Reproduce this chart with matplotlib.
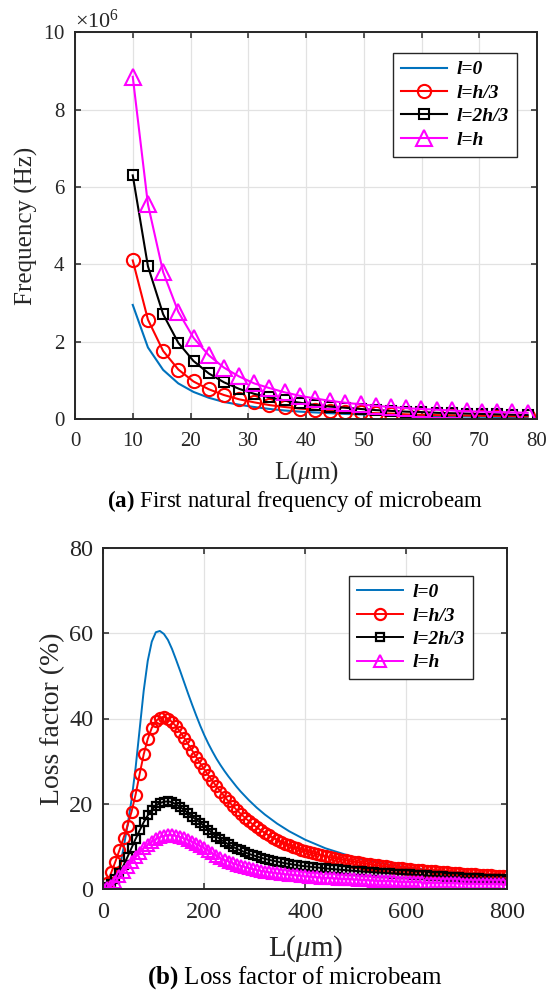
import numpy as np
import matplotlib
matplotlib.use("Agg")
import matplotlib.pyplot as plt
from matplotlib.ticker import ScalarFormatter

plt.rcParams['font.family'] = 'Liberation Serif'
plt.rcParams['mathtext.fontset'] = 'custom'
plt.rcParams['mathtext.rm'] = 'Liberation Serif'
plt.rcParams['mathtext.it'] = 'Liberation Serif:italic'
plt.rcParams['mathtext.bf'] = 'Liberation Serif:bold'

# ---- (a) first natural frequency, values in units of 1e6 Hz ----
L_freq = [10.0, 12.63, 15.26, 17.89, 20.52, 23.15, 25.78, 28.41, 31.04, 33.67,
          36.3, 38.93, 41.56, 44.19, 46.82, 49.45, 52.08, 54.71, 57.34, 59.97,
          62.6, 65.23, 67.86, 70.49, 73.12, 75.75, 78.38]
freq_l0 = [2.95, 1.85, 1.27, 0.92, 0.70, 0.55, 0.44, 0.37, 0.31, 0.26,
           0.22, 0.19, 0.17, 0.15, 0.13, 0.12, 0.11, 0.10, 0.09, 0.08,
           0.075, 0.069, 0.064, 0.059, 0.055, 0.051, 0.048]
freq_h3 = [4.10, 2.57, 1.76, 1.28, 0.97, 0.77, 0.62, 0.51, 0.43, 0.36,
           0.31, 0.27, 0.24, 0.21, 0.19, 0.17, 0.15, 0.14, 0.12, 0.11,
           0.10, 0.096, 0.089, 0.083, 0.077, 0.071, 0.067]
freq_2h3 = [6.30, 3.95, 2.71, 1.97, 1.50, 1.18, 0.95, 0.78, 0.65, 0.56,
            0.48, 0.42, 0.36, 0.32, 0.29, 0.26, 0.23, 0.21, 0.19, 0.18,
            0.16, 0.15, 0.14, 0.13, 0.12, 0.11, 0.10]
freq_h = [8.85, 5.55, 3.80, 2.77, 2.10, 1.65, 1.33, 1.10, 0.92, 0.80,
          0.69, 0.60, 0.53, 0.47, 0.42, 0.38, 0.34, 0.31, 0.28, 0.26,
          0.24, 0.22, 0.20, 0.19, 0.18, 0.17, 0.16]

# ---- (b) loss factor (%) ----
L_loss = [0, 8, 16, 24, 32, 40, 48, 56, 64, 72, 80, 88, 96, 104, 112, 120,
          128, 136, 144, 152, 160, 168, 176, 184, 192, 200, 208, 216, 224,
          232, 240, 248, 256, 264, 272, 280, 288, 296, 304, 312, 320, 328,
          336, 344, 352, 360, 368, 376, 384, 392, 400, 408, 416, 424, 432,
          440, 448, 456, 464, 472, 480, 488, 496, 504, 512, 520, 528, 536,
          544, 552, 560, 568, 576, 584, 592, 600, 608, 616, 624, 632, 640,
          648, 656, 664, 672, 680, 688, 696, 704, 712, 720, 728, 736, 744,
          752, 760, 768, 776, 784, 792, 800]
loss_l0 = [0.0, 0.1, 0.6, 1.9, 5.0, 9.6, 15.0, 21.0, 28.5, 37.5, 46.5, 53.5,
           58.0, 60.2, 60.5, 59.8, 58.4, 56.3, 53.8, 51.2, 48.5, 45.8, 43.2,
           40.7, 38.3, 36.1, 34.1, 32.3, 30.6, 29.1, 27.7, 26.4, 25.2, 24.0,
           22.9, 21.9, 20.9, 20.0, 19.1, 18.3, 17.5, 16.8, 16.1, 15.4, 14.8,
           14.2, 13.6, 13.1, 12.6, 12.1, 11.6, 11.2, 10.8, 10.4, 10.0, 9.6,
           9.3, 9.0, 8.7, 8.4, 8.1, 7.8, 7.55, 7.3, 7.05, 6.85, 6.65, 6.45,
           6.25, 6.05, 5.9, 5.75, 5.6, 5.45, 5.3, 5.15, 5.0, 4.9, 4.8, 4.7,
           4.6, 4.5, 4.4, 4.3, 4.2, 4.1, 4.0, 3.95, 3.85, 3.8, 3.7, 3.65,
           3.55, 3.5, 3.45, 3.4, 3.3, 3.25, 3.2, 3.15, 3.1]
loss_h3 = [0.0, 1.5, 4.0, 6.5, 9.2, 12.0, 14.9, 18.2, 22.2, 27.0, 31.6, 35.2,
           37.8, 39.4, 40.2, 40.4, 40.0, 39.2, 38.2, 36.9, 35.5, 34.0, 32.5,
           31.0, 29.5, 28.1, 26.7, 25.4, 24.1, 22.9, 21.7, 20.6, 19.6, 18.6,
           17.7, 16.8, 16.0, 15.2, 14.5, 13.8, 13.2, 12.6, 12.1, 11.6, 11.1,
           10.7, 10.3, 9.9, 9.6, 9.3, 9.0, 8.7, 8.45, 8.2, 7.95, 7.75, 7.55,
           7.35, 7.15, 6.95, 6.8, 6.6, 6.45, 6.3, 6.15, 6.0, 5.85, 5.7, 5.6,
           5.45, 5.35, 5.2, 5.1, 5.0, 4.9, 4.8, 4.7, 4.6, 4.5, 4.42, 4.34,
           4.26, 4.18, 4.1, 4.02, 3.95, 3.88, 3.81, 3.74, 3.67, 3.6, 3.54,
           3.48, 3.42, 3.36, 3.3, 3.24, 3.18, 3.12, 3.06, 3.0]
loss_2h3 = [0.0, 0.5, 1.3, 2.4, 3.9, 5.6, 7.6, 9.7, 11.8, 13.8, 15.7, 17.3,
            18.6, 19.6, 20.2, 20.5, 20.6, 20.4, 19.9, 19.3, 18.6, 17.8, 17.0,
            16.3, 15.6, 14.8, 14.0, 13.1, 12.3, 11.7, 11.1, 10.5, 10.0, 9.5,
            9.1, 8.7, 8.3, 8.0, 7.7, 7.4, 7.15, 6.9, 6.7, 6.5, 6.3, 6.1, 5.95,
            5.8, 5.65, 5.5, 5.4, 5.3, 5.2, 5.1, 5.0, 4.9, 4.8, 4.72, 4.64,
            4.56, 4.48, 4.4, 4.33, 4.26, 4.19, 4.12, 4.05, 3.99, 3.93, 3.87,
            3.81, 3.75, 3.7, 3.64, 3.59, 3.54, 3.48, 3.42, 3.36, 3.3, 3.24,
            3.18, 3.12, 3.06, 3.0, 2.95, 2.9, 2.85, 2.8, 2.75, 2.7, 2.65, 2.6,
            2.55, 2.5, 2.46, 2.42, 2.38, 2.34, 2.3, 2.26]
loss_h = [0.0, 0.2, 0.8, 1.8, 3.0, 4.1, 5.2, 6.3, 7.5, 8.6, 9.6, 10.4, 11.1,
          11.7, 12.2, 12.5, 12.7, 12.7, 12.5, 12.25, 11.9, 11.5, 11.1, 10.6,
          10.1, 9.6, 9.0, 8.4, 7.8, 7.3, 6.9, 6.5, 6.15, 5.8, 5.5, 5.2, 4.95,
          4.7, 4.5, 4.3, 4.15, 4.0, 3.85, 3.75, 3.65, 3.55, 3.45, 3.35, 3.25,
          3.15, 3.05, 2.98, 2.9, 2.83, 2.76, 2.7, 2.64, 2.58, 2.52, 2.46, 2.4,
          2.35, 2.3, 2.25, 2.2, 2.15, 2.1, 2.06, 2.02, 1.98, 1.94, 1.9, 1.86,
          1.82, 1.78, 1.74, 1.71, 1.68, 1.65, 1.62, 1.59, 1.56, 1.53, 1.5,
          1.47, 1.44, 1.42, 1.4, 1.37, 1.35, 1.33, 1.3, 1.28, 1.26, 1.24,
          1.22, 1.2, 1.18, 1.16, 1.14, 1.12]

labels = ['l=0', 'l=h/3', 'l=2h/3', 'l=h']

DARK = '#262626'
BLUE = '#0072BD'
MAG = '#FF00FF'
W, H = 553, 992


def style_axes(ax, tick_size, pad):
    for s in ax.spines.values():
        s.set_color(DARK)
        s.set_linewidth(1.4)
    ax.tick_params(direction='in', top=True, right=True, length=4, width=1.1,
                   colors=DARK, labelsize=tick_size, pad=pad)
    ax.tick_params(axis='x', pad=pad + 2.5)
    ax.grid(True, color='#e2e2e2', lw=0.9)
    ax.set_axisbelow(True)


def add_legend(ax, x_px, y_px):
    leg = ax.legend(loc='upper right', bbox_to_anchor=(x_px / W, 1 - y_px / H),
                    bbox_transform=ax.figure.transFigure,
                    prop={'family': 'Liberation Serif', 'weight': 'bold',
                          'style': 'italic', 'size': 14},
                    fancybox=False, framealpha=1, edgecolor=DARK,
                    handlelength=2.4, labelspacing=0.3, borderpad=0.4,
                    handletextpad=0.5, borderaxespad=0)
    leg.get_frame().set_linewidth(1.0)


fig = plt.figure(figsize=(W / 100, H / 100), dpi=100)

# top panel
ax1 = fig.add_axes([75 / W, 1 - 419 / H, 462 / W, 386.7 / H])
mhz = 1e6
ax1.plot(L_freq, np.array(freq_l0) * mhz, color=BLUE, lw=1.5, label=labels[0])
ax1.plot(L_freq, np.array(freq_h3) * mhz, '-o', color='r', mfc='none', ms=9.5,
         mew=1.5, lw=1.5, label=labels[1])
ax1.plot(L_freq, np.array(freq_2h3) * mhz, '-s', color='k', mfc='none', ms=7.5,
         mew=1.5, lw=1.5, label=labels[2])
ax1.plot(L_freq, np.array(freq_h) * mhz, '-^', color=MAG, mfc='none', ms=11,
         mew=1.5, lw=1.5, label=labels[3])
ax1.set_xlim(0, 80)
ax1.set_ylim(0, 10e6)
ax1.set_xticks(np.arange(0, 81, 10))
ax1.set_yticks(np.arange(0, 10.1e6, 2e6))
fmt = ScalarFormatter(useMathText=True)
fmt.set_powerlimits((6, 6))
ax1.yaxis.set_major_formatter(fmt)
style_axes(ax1, 15, 7)
ax1.yaxis.get_offset_text().set_fontsize(16)
ax1.yaxis.get_offset_text().set_color(DARK)
ax1.set_ylabel('Frequency (Hz)', fontsize=18, color=DARK)
ax1.set_xlabel(r'L($\mu$m)', fontsize=18, color=DARK)
ax1.yaxis.set_label_coords(-0.08, 0.5)
ax1.xaxis.set_label_coords(0.5, -0.105)
add_legend(ax1, 517, 53)
fig.text(295 / W, 1 - 501 / H, r'$\bf{(a)}$ First natural frequency of microbeam',
         ha='center', va='center', fontsize=16.5, color='k')

# bottom panel
ax2 = fig.add_axes([103.3 / W, 1 - 889.3 / H, 404 / W, 341.6 / H])
ax2.plot(L_loss, loss_l0, color=BLUE, lw=1.4, label=labels[0])
ax2.plot(L_loss, loss_h3, '-o', color='r', mfc='none', ms=8, mew=1.6,
         lw=1.4, label=labels[1])
ax2.plot(L_loss, loss_2h3, '-s', color='k', mfc='none', ms=6, mew=1.6,
         lw=1.4, label=labels[2])
ax2.plot(L_loss, loss_h, '-^', color=MAG, mfc='none', ms=8.5, mew=1.5,
         lw=1.4, label=labels[3])
ax2.set_xlim(0, 800)
ax2.set_ylim(0, 80)
ax2.set_xticks(np.arange(0, 801, 200))
ax2.set_yticks(np.arange(0, 81, 20))
style_axes(ax2, 17.5, 7)
ax2.set_ylabel('Loss factor (%)', fontsize=20, color=DARK)
ax2.set_xlabel(r'L($\mu$m)', fontsize=21, color=DARK)
ax2.yaxis.set_label_coords(-0.095, 0.5)
ax2.xaxis.set_label_coords(0.5, -0.13)
add_legend(ax2, 473, 575.7)
fig.text(295.5 / W, 1 - 978 / H, r'$\bf{(b)}$ Loss factor of microbeam',
         ha='center', va='center', fontsize=18, color='k')

fig.savefig('out.png', dpi=100)
